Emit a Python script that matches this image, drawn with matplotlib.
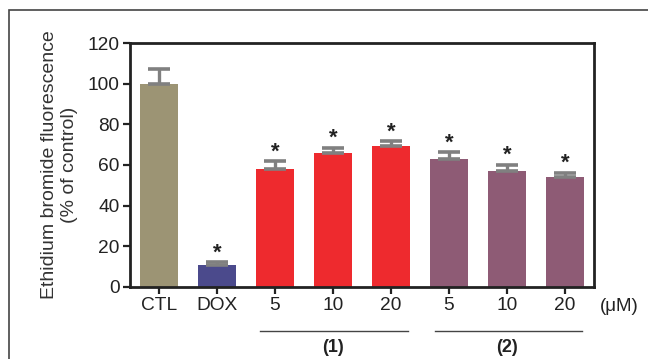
import matplotlib
matplotlib.use("Agg")
import matplotlib.pyplot as plt
from matplotlib.patches import Rectangle
import numpy as np

plt.rcParams['font.family'] = ['Liberation Sans', 'DejaVu Sans']

# données
labels = ["CTL", "DOX", "5", "10", "20", "5", "10", "20"]
values = [100, 10.8, 58.2, 65.7, 69.5, 63.0, 56.9, 54.3]
errors = [7.0, 1.5, 3.8, 2.8, 2.3, 3.2, 3.3, 1.9]
signif = [False, True, True, True, True, True, True, True]
colors = ["#9c9474", "#4b4a8c", "#ee2a2e", "#ee2a2e", "#ee2a2e",
          "#8e5b75", "#8e5b75", "#8e5b75"]
groups = [("(1)", 2, 4), ("(2)", 5, 7)]

fig = plt.figure(figsize=(6.48, 3.59), dpi=100)
ax = fig.add_axes([0.2006, 0.2006, 0.9167 - 0.2006, 0.8802 - 0.2006])

# cadre extérieur
W, H = 648, 359
fig.patches.append(Rectangle((9 / W, -0.1), 1.2, (H - 10) / H + 0.1,
                             transform=fig.transFigure, fill=False,
                             edgecolor="#444444", linewidth=1.2))

x = np.arange(len(labels))
ax.bar(x, values, width=0.66, color=colors, zorder=2)
ax.errorbar(x, values, yerr=[np.zeros(len(errors)), errors], fmt="none",
            ecolor="#808080", elinewidth=2.4, capsize=7.8, capthick=2.6, zorder=3)

for xi, v, e, s in zip(x, values, errors, signif):
    if s:
        ax.annotate("*", (xi, v + e), xytext=(0, -1), textcoords="offset points",
                    ha="center", va="bottom", fontsize=16, fontweight="bold",
                    color="#222222")

ax.set_xlim(-0.5, 7.5)
ax.set_ylim(0, 120)
ax.set_yticks(np.arange(0, 121, 20))
ax.set_xticks(x)
ax.set_xticklabels(labels)
ax.tick_params(axis="both", labelsize=13.8, width=1.6, length=5, color="#222222",
               labelcolor="#222222", pad=2.5)
for sp in ax.spines.values():
    sp.set_linewidth(2)
    sp.set_color("#222222")

ax.set_ylabel("Ethidium bromide fluorescence\n(% of control)", fontsize=14,
              color="#333333", labelpad=7, linespacing=1.2)

ax.text(7.6, -9.5, "(\u03bcM)", fontsize=13.5, color="#222222",
        ha="left", va="center", clip_on=False)

for name, a, b in groups:
    ax.plot([a - 0.25, b + 0.3], [-21.5, -21.5], color="#444444", lw=1,
            clip_on=False)
    ax.text((a + b) / 2, -30, name, fontsize=13, fontweight="bold",
            color="#222222", ha="center", va="center", clip_on=False)

fig.savefig("out.png", dpi=100)
